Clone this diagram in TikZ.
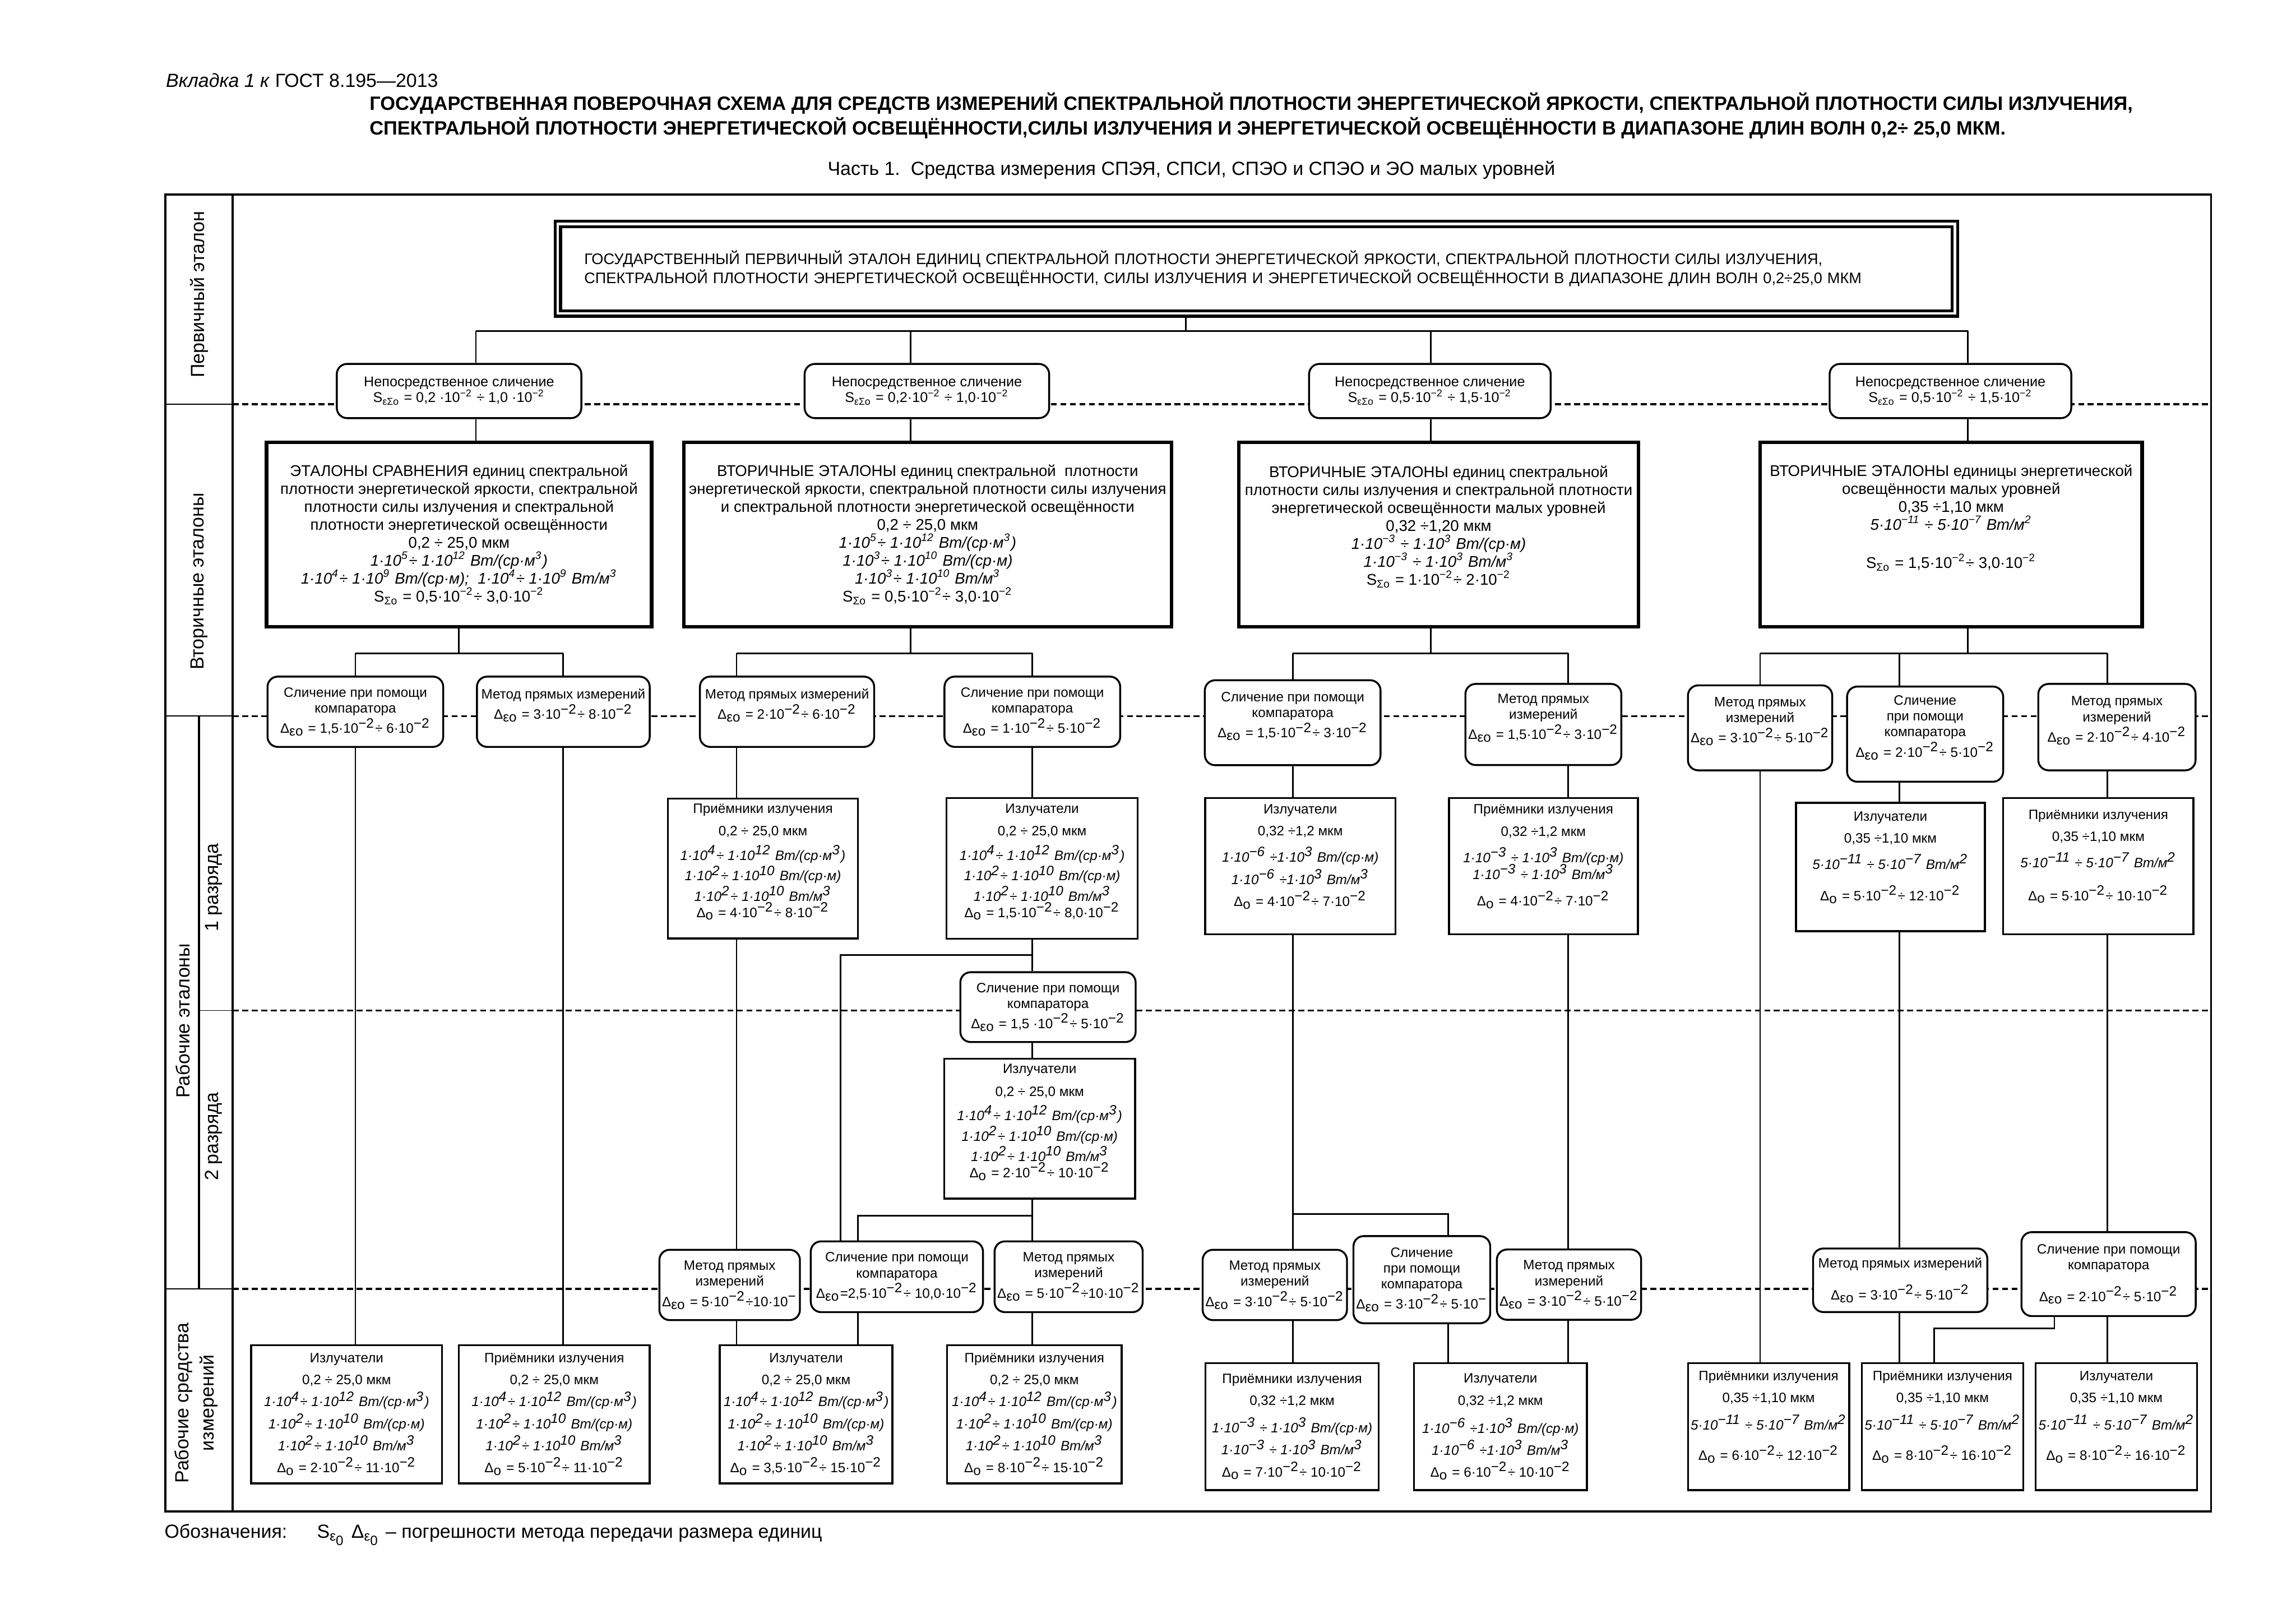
\documentclass[tikz,border=0pt]{standalone}
\usepackage{fontspec}
\setmainfont{Liberation Sans}
\usetikzlibrary{positioning}

\newlength{\pxu}
\setlength{\pxu}{0.01894cm}
\newcommand{\tenp}[1]{·10\textsuperscript{#1}}
\newcommand{\dseo}{Δ\textsubscript{εо}}
\newcommand{\dlo}{Δ\textsubscript{о}}
\newcommand{\ssig}{S\textsubscript{Σо}}
\newcommand{\sesig}{S\textsubscript{εΣо}}
\newcommand{\blokA}{\textit{1\tenp{4}÷ 1\tenp{12} Вт/(ср·м\textsuperscript{3})}\\
  \textit{1\tenp{2}÷ 1\tenp{10} Вт/(ср·м)}\\
  \textit{1\tenp{2}÷ 1\tenp{10} Вт/м\textsuperscript{3}}}

\begin{document}
\begin{tikzpicture}[
    x=0.01894cm, y=-0.01894cm,
    ramka/.style={line width=0.8pt},
    tonk/.style={line width=0.4pt},
    granica/.style={line width=0.7pt, dash pattern=on 2.2pt off 1.3pt},
    svyaz/.style={line width=0.6pt},
    glavny/.style={draw, double, line width=1.1pt, double distance=0.9pt, fill=white, inner sep=0pt, align=left, text width=918\pxu, font=\fontsize{5.6}{7}\selectfont},
    vtorich/.style={draw, line width=1.35pt, fill=white, align=center, inner sep=1pt, font=\fontsize{5.7}{6.6}\selectfont},
    slich/.style={draw, line width=0.7pt, rounded corners=7\pxu, fill=white, align=center, inner sep=1pt, font=\fontsize{5.2}{5.75}\selectfont},
    metod/.style={slich, font=\fontsize{5}{5.8}\selectfont},
    pribor/.style={draw, line width=0.7pt, fill=white, align=center, inner sep=1pt, font=\fontsize{5}{5.9}\selectfont},
    rabochy/.style={pribor, font=\fontsize{5}{8.1}\selectfont},
    podpis/.style={rotate=90, align=center, inner sep=0pt, font=\fontsize{7}{9.2}\selectfont}
]
\useasboundingbox[fill=white] (0,0) rectangle (1568,1108);

% Заголовок
\node[anchor=west, inner sep=0pt, font=\fontsize{7}{8}\selectfont] (vkladka) at (113,55) {\textit{Вкладка 1 к} ГОСТ 8.195—2013};
\node[anchor=west, inner sep=0pt, align=left, font=\bfseries\fontsize{7.1}{9}\selectfont] (zagol) at (252,79)
  {ГОСУДАРСТВЕННАЯ ПОВЕРОЧНАЯ СХЕМА ДЛЯ СРЕДСТВ ИЗМЕРЕНИЙ СПЕКТРАЛЬНОЙ ПЛОТНОСТИ ЭНЕРГЕТИЧЕСКОЙ ЯРКОСТИ, СПЕКТРАЛЬНОЙ ПЛОТНОСТИ СИЛЫ ИЗЛУЧЕНИЯ,\\
   СПЕКТРАЛЬНОЙ ПЛОТНОСТИ ЭНЕРГЕТИЧЕСКОЙ ОСВЕЩЁННОСТИ,СИЛЫ ИЗЛУЧЕНИЯ И ЭНЕРГЕТИЧЕСКОЙ ОСВЕЩЁННОСТИ В ДИАПАЗОНЕ ДЛИН ВОЛН 0,2÷ 25,0 МКМ.};
\node[inner sep=0pt, font=\fontsize{7}{8}\selectfont] (chast) at (813.6,116) {Часть 1.\ \ Средства измерения СПЭЯ, СПСИ, СПЭО и СПЭО и ЭО малых уровней};

% Рамка и границы уровней
\draw[ramka] (113,133) rectangle (1510,1032);
\draw[ramka] (159,133) -- (159,1032);
\draw[ramka] (136,489) -- (136,880);
\draw[tonk] (113,276) -- (159,276);
\draw[tonk] (113,489) -- (159,489);
\draw[tonk] (136,690) -- (159,690);
\draw[tonk] (113,880) -- (159,880);
\draw[granica] (159,276) -- (1510,276);
\draw[granica] (159,489) -- (1510,489);
\draw[granica] (159,690) -- (1510,690);
\draw[granica] (159,880) -- (1510,880);

% Подписи уровней
\node[podpis] (lb1) at (136,201) {Первичный эталон};
\node[podpis] (lb2) at (136,397) {Вторичные эталоны};
\node[podpis] (lb3) at (125,697) {Рабочие эталоны};
\node[podpis] (lb4) at (146,606) {1 разряда};
\node[podpis] (lb5) at (146,776) {2 разряда};
\node[podpis] (lb6) at (134,958) {Рабочие средства\\ измерений};

% Первичный эталон
\node[glavny, minimum width=954\pxu, minimum height=61\pxu] (pe) at (858,183.5)
  {ГОСУДАРСТВЕННЫЙ ПЕРВИЧНЫЙ ЭТАЛОН ЕДИНИЦ СПЕКТРАЛЬНОЙ ПЛОТНОСТИ ЭНЕРГЕТИЧЕСКОЙ ЯРКОСТИ, СПЕКТРАЛЬНОЙ ПЛОТНОСТИ СИЛЫ ИЗЛУЧЕНИЯ,\\
   СПЕКТРАЛЬНОЙ ПЛОТНОСТИ ЭНЕРГЕТИЧЕСКОЙ ОСВЕЩЁННОСТИ, СИЛЫ ИЗЛУЧЕНИЯ И ЭНЕРГЕТИЧЕСКОЙ ОСВЕЩЁННОСТИ В ДИАПАЗОНЕ ДЛИН ВОЛН 0,2÷25,0 МКМ};

% Непосредственное сличение
\node[slich, minimum width=167\pxu, minimum height=37\pxu] (sl1) at (313.5,267) {Непосредственное сличение\\ \sesig{} = 0,2 \tenp{−2} ÷ 1,0 \tenp{−2}};
\node[slich, minimum width=167\pxu, minimum height=37\pxu] (sl2) at (633,267) {Непосредственное сличение\\ \sesig{} = 0,2\tenp{−2} ÷ 1,0\tenp{−2}};
\node[slich, minimum width=165\pxu, minimum height=37\pxu] (sl3) at (976.5,267) {Непосредственное сличение\\ \sesig{} = 0,5\tenp{−2} ÷ 1,5\tenp{−2}};
\node[slich, minimum width=165\pxu, minimum height=37\pxu] (sl4) at (1332,267) {Непосредственное сличение\\ \sesig{} = 0,5\tenp{−2} ÷ 1,5\tenp{−2}};

% Вторичные эталоны
\node[vtorich, minimum width=263\pxu, minimum height=126\pxu] (vt1) at (313.5,365)
  {ЭТАЛОНЫ СРАВНЕНИЯ единиц спектральной\\ плотности энергетической яркости, спектральной\\ плотности силы излучения и спектральной\\ плотности энергетической освещённости\\ 0,2 ÷ 25,0 мкм\\
   \textit{1\tenp{5}÷ 1\tenp{12} Вт/(ср·м\textsuperscript{3})}\\ \textit{1\tenp{4}÷ 1\tenp{9} Вт/(ср·м);\ \ 1\tenp{4}÷ 1\tenp{9} Вт/м\textsuperscript{3}}\\ \ssig{} = 0,5\tenp{−2}÷ 3,0\tenp{−2}};
\node[vtorich, minimum width=333\pxu, minimum height=126\pxu] (vt2) at (633.5,365)
  {ВТОРИЧНЫЕ ЭТАЛОНЫ единиц спектральной\ \ плотности\\ энергетической яркости, спектральной плотности силы излучения\\ и спектральной плотности энергетической освещённости\\ 0,2 ÷ 25,0 мкм\\
   \textit{1\tenp{5}÷ 1\tenp{12} Вт/(ср·м\textsuperscript{3})}\\ \textit{1\tenp{3}÷ 1\tenp{10} Вт/(ср·м)}\\ \textit{1\tenp{3}÷ 1\tenp{10} Вт/м\textsuperscript{3}}\\ \ssig{} = 0,5\tenp{−2}÷ 3,0\tenp{−2}};
\node[vtorich, minimum width=273\pxu, minimum height=126\pxu] (vt3) at (982.5,365)
  {ВТОРИЧНЫЕ ЭТАЛОНЫ единиц спектральной\\ плотности силы излучения и спектральной плотности\\ энергетической освещённости малых уровней\\ 0,32 ÷1,20 мкм\\
   \textit{1\tenp{−3} ÷ 1\tenp{3} Вт/(ср·м)}\\ \textit{1\tenp{−3} ÷ 1\tenp{3} Вт/м\textsuperscript{3}}\\ \ssig{} = 1\tenp{−2}÷ 2\tenp{−2}\\ \mbox{}};
\node[vtorich, minimum width=261\pxu, minimum height=126\pxu] (vt4) at (1332.5,365)
  {ВТОРИЧНЫЕ ЭТАЛОНЫ единицы энергетической\\ освещённости малых уровней\\ 0,35 ÷1,10 мкм\\ \textit{5\tenp{−11} ÷ 5\tenp{−7} Вт/м\textsuperscript{2}}\\[7.5pt]
   \ssig{} = 1,5\tenp{−2}÷ 3,0\tenp{−2}\\ \mbox{}\\ \mbox{}};

% Методы передачи к рабочим эталонам 1 разряда
\node[metod, minimum width=120\pxu, minimum height=48\pxu] (m1) at (242.7,486) {Сличение при помощи\\ компаратора\\ \dseo{} = 1,5\tenp{−2}÷ 6\tenp{−2}};
\node[metod, minimum width=118\pxu, minimum height=48\pxu] (m2) at (384.7,486) {Метод прямых измерений\\ \dseo{} = 3\tenp{−2}÷ 8\tenp{−2}\\ \mbox{}};
\node[metod, minimum width=119\pxu, minimum height=48\pxu] (m3) at (537.5,486) {Метод прямых измерений\\ \dseo{} = 2\tenp{−2}÷ 6\tenp{−2}\\ \mbox{}};
\node[metod, minimum width=120\pxu, minimum height=48\pxu] (m4) at (705,486) {Сличение при помощи\\ компаратора\\ \dseo{} = 1\tenp{−2}÷ 5\tenp{−2}};
\node[metod, minimum width=120\pxu, minimum height=58\pxu] (m5) at (882.8,493.5) {Сличение при помощи\\ компаратора\\ \dseo{} = 1,5\tenp{−2}÷ 3\tenp{−2}\\ \mbox{}};
\node[metod, minimum width=106.5\pxu, minimum height=55.4\pxu] (m6) at (1054,494.7) {Метод прямых\\ измерений\\ \dseo{} = 1,5\tenp{−2}÷ 3\tenp{−2}\\ \mbox{}};
\node[metod, minimum width=94\pxu, minimum height=58\pxu] (m7) at (1202,497) {Метод прямых\\ измерений\\ \dseo{} = 3\tenp{−2}÷ 5\tenp{−2}\\ \mbox{}};
\node[metod, minimum width=106.6\pxu, minimum height=65\pxu] (m8) at (1314.7,501.3) {Сличение\\ при помощи\\ компаратора\\ \dseo{} = 2\tenp{−2}÷ 5\tenp{−2}\\ \mbox{}};
\node[metod, minimum width=107.4\pxu, minimum height=59\pxu] (m9) at (1445.7,496.5) {Метод прямых\\ измерений\\ \dseo{} = 2\tenp{−2}÷ 4\tenp{−2}\\ \mbox{}};

% Рабочие эталоны 1 разряда
\node[pribor, minimum width=130\pxu, minimum height=95.5\pxu] (r1a) at (521,593) {Приёмники излучения\\[2.5pt] 0,2 ÷ 25,0 мкм\\[1.8pt] \blokA\\ \dlo{} = 4\tenp{−2}÷ 8\tenp{−2}\\ \mbox{}};
\node[pribor, minimum width=130.5\pxu, minimum height=96\pxu] (e1a) at (711.7,593) {Излучатели\\[2.5pt] 0,2 ÷ 25,0 мкм\\[1.8pt] \blokA\\ \dlo{} = 1,5\tenp{−2}÷ 8,0\tenp{−2}\\ \mbox{}};
\node[rabochy, minimum width=130\pxu, minimum height=93\pxu] (e1b) at (888,591.5) {Излучатели\\ 0,32 ÷1,2 мкм\\[1.6pt] \textit{1\tenp{−6} ÷1\tenp{3} Вт/(ср·м)}\\ \textit{1\tenp{−6} ÷1\tenp{3} Вт/м\textsuperscript{3}}\\ \dlo{} = 4\tenp{−2}÷ 7\tenp{−2}\\ \mbox{}};
\node[rabochy, minimum width=129\pxu, minimum height=93\pxu] (r1b) at (1054,591.5) {Приёмники излучения\\ 0,32 ÷1,2 мкм\\[1.6pt] \textit{1\tenp{−3} ÷ 1\tenp{3} Вт/(ср·м)}\\[-1.8pt] \textit{1\tenp{−3} ÷ 1\tenp{3} Вт/м\textsuperscript{3}}\\[1.6pt] \dlo{} = 4\tenp{−2}÷ 7\tenp{−2}\\ \mbox{}};
\node[rabochy, minimum width=129\pxu, minimum height=87.7\pxu] (e1c) at (1291,592) {Излучатели\\ 0,35 ÷1,10 мкм\\[1.6pt] \textit{5\tenp{−11} ÷ 5\tenp{−7} Вт/м\textsuperscript{2}}\\[3.4pt] \dlo{} = 5\tenp{−2}÷ 12\tenp{−2}\\ \mbox{}};
\node[rabochy, minimum width=130\pxu, minimum height=93\pxu] (r1c) at (1433,591.5) {Приёмники излучения\\ 0,35 ÷1,10 мкм\\[1.5pt] \textit{5\tenp{−11} ÷ 5\tenp{−7} Вт/м\textsuperscript{2}}\\[4pt] \dlo{} = 5\tenp{−2}÷ 10\tenp{−2}\\ \mbox{}};

% Рабочие эталоны 2 разряда
\node[metod, minimum width=119.7\pxu, minimum height=47.7\pxu] (m2r) at (715.7,687.7) {Сличение при помощи\\ компаратора\\ \dseo{} = 1,5 \tenp{−2}÷ 5\tenp{−2}};
\node[pribor, minimum width=130.5\pxu, minimum height=95.5\pxu] (e2) at (710,770.7) {Излучатели\\[2.5pt] 0,2 ÷ 25,0 мкм\\[1.8pt] \blokA\\ \dlo{} = 2\tenp{−2}÷ 10\tenp{−2}\\ \mbox{}};

% Методы передачи к рабочим средствам
\node[metod, minimum width=83.8\pxu, minimum height=48\pxu] (m10) at (498.3,877.4) {Метод прямых\\ измерений\\ \dseo{} = 5\tenp{−2}÷10\tenp{−}};
\node[metod, minimum width=117.6\pxu, minimum height=48.3\pxu] (m11) at (612.5,871.8) {Сличение при помощи\\ компаратора\\ \dseo{}=2,5\tenp{−2}÷ 10,0\tenp{−2}};
\node[metod, minimum width=94\pxu, minimum height=48.3\pxu] (m12) at (729.8,871.8) {Метод прямых\\ измерений\\ \dseo{} = 5\tenp{−2}÷10\tenp{−2}};
\node[metod, minimum width=92.8\pxu, minimum height=48\pxu] (m13) at (870.6,877.4) {Метод прямых\\ измерений\\ \dseo{} = 3\tenp{−2}÷ 5\tenp{−2}};
\node[metod, minimum width=82\pxu, minimum height=59.5\pxu] (m14) at (971,873.8) {Сличение\\ при помощи\\ компаратора\\ \dseo{} = 3\tenp{−2}÷ 5\tenp{−}};
\node[metod, minimum width=94\pxu, minimum height=48\pxu] (m15) at (1071.5,877.2) {Метод прямых\\ измерений\\ \dseo{} = 3\tenp{−2}÷ 5\tenp{−2}};
\node[metod, minimum width=119\pxu, minimum height=43.4\pxu] (m16) at (1297.7,874.2) {Метод прямых измерений\\[4.2pt] \dseo{} = 3\tenp{−2}÷ 5\tenp{−2}};
\node[metod, minimum width=119\pxu, minimum height=57.3\pxu] (m17) at (1440,870) {Сличение при помощи\\ компаратора\\[4.2pt] \dseo{} = 2\tenp{−2}÷ 5\tenp{−2}};

% Рабочие средства измерений
\node[rabochy, minimum width=130.4\pxu, minimum height=94.5\pxu] (w1) at (236.7,965.7) {Излучатели\\ 0,2 ÷ 25,0 мкм\\ \blokA\\ \dlo{} = 2\tenp{−2}÷ 11\tenp{−2}};
\node[rabochy, minimum width=130.4\pxu, minimum height=94.5\pxu] (w2) at (378.5,965.7) {Приёмники излучения\\ 0,2 ÷ 25,0 мкм\\ \blokA\\ \dlo{} = 5\tenp{−2}÷ 11\tenp{−2}};
\node[rabochy, minimum width=118\pxu, minimum height=94.5\pxu] (w3) at (550.5,965.7) {Излучатели\\ 0,2 ÷ 25,0 мкм\\ \blokA\\ \dlo{} = 3,5\tenp{−2}÷ 15\tenp{−2}};
\node[rabochy, minimum width=119.2\pxu, minimum height=94.5\pxu] (w4) at (706.4,965.7) {Приёмники излучения\\ 0,2 ÷ 25,0 мкм\\ \blokA\\ \dlo{} = 8\tenp{−2}÷ 15\tenp{−2}};
\node[rabochy, minimum width=118.2\pxu, minimum height=86.7\pxu] (w5) at (882.4,974.2) {Приёмники излучения\\ 0,32 ÷1,2 мкм\\[2pt] \textit{1\tenp{−3} ÷ 1\tenp{3} Вт/(ср·м)}\\ \textit{1\tenp{−3} ÷ 1\tenp{3} Вт/м\textsuperscript{3}}\\ \dlo{} = 7\tenp{−2}÷ 10\tenp{−2}};
\node[rabochy, minimum width=118.2\pxu, minimum height=86.7\pxu] (w6) at (1024.7,974.2) {Излучатели\\ 0,32 ÷1,2 мкм\\[2.2pt] \textit{1\tenp{−6} ÷1\tenp{3} Вт/(ср·м)}\\ \textit{1\tenp{−6} ÷1\tenp{3} Вт/м\textsuperscript{3}}\\ \dlo{} = 6\tenp{−2}÷ 10\tenp{−2}};
\node[rabochy, minimum width=106.2\pxu, minimum height=86.7\pxu] (w7) at (1207.8,974.2) {Приёмники излучения\\ 0,35 ÷1,10 мкм\\[2pt] \textit{5\tenp{−11} ÷ 5\tenp{−7} Вт/м\textsuperscript{2}}\\[3.1pt] \dlo{} = 6\tenp{−2}÷ 12\tenp{−2}\\ \mbox{}};
\node[rabochy, minimum width=105.7\pxu, minimum height=86.7\pxu] (w8) at (1326.6,974.2) {Приёмники излучения\\ 0,35 ÷1,10 мкм\\[2pt] \textit{5\tenp{−11} ÷ 5\tenp{−7} Вт/м\textsuperscript{2}}\\[3.1pt] \dlo{} = 8\tenp{−2}÷ 16\tenp{−2}\\ \mbox{}};
\node[rabochy, minimum width=106.6\pxu, minimum height=86.7\pxu] (w9) at (1445.3,974.2) {Излучатели\\ 0,35 ÷1,10 мкм\\[2pt] \textit{5\tenp{−11} ÷ 5\tenp{−7} Вт/м\textsuperscript{2}}\\[3.1pt] \dlo{} = 8\tenp{−2}÷ 16\tenp{−2}\\ \mbox{}};

% Связи от первичного эталона
\coordinate (s0) at (810,226);
\coordinate (s1) at (325,226);
\coordinate (s2) at (622,226);
\coordinate (s3) at (977,226);
\coordinate (s4) at (1344,226);
\draw[svyaz] (pe.south -| s0) -- (s0);
\draw[svyaz] (s1) -- (s4);
\draw[svyaz] (s1) -- (sl1.north -| s1);
\draw[svyaz] (s2) -- (sl2.north -| s2);
\draw[svyaz] (s3) -- (sl3.north -| s3);
\draw[svyaz] (s4) -- (sl4.north -| s4);
\draw[svyaz] (sl1.south -| s1) -- (vt1.north -| s1);
\draw[svyaz] (sl2.south -| s2) -- (vt2.north -| s2);
\draw[svyaz] (sl3.south -| s3) -- (vt3.north -| s3);
\draw[svyaz] (sl4.south -| s4) -- (vt4.north -| s4);

% Связи от вторичных эталонов
\coordinate (v1a) at (242.7,446);
\coordinate (v1b) at (384.7,446);
\draw[svyaz] (vt1.south) -- (vt1.south |- v1a);
\draw[svyaz] (v1a) -- (v1b);
\draw[svyaz] (v1a) -- (m1.north);
\draw[svyaz] (v1b) -- (m2.north);
\coordinate (v2a) at (503,446);
\coordinate (v2b) at (705,446);
\draw[svyaz] (vt2.south -| s2) -- (s2 |- v2a);
\draw[svyaz] (v2a) -- (v2b);
\draw[svyaz] (v2a) -- (m3.north -| v2a);
\draw[svyaz] (v2b) -- (m4.north);
\coordinate (v3a) at (882.8,446);
\coordinate (v3b) at (1071,446);
\draw[svyaz] (vt3.south -| s3) -- (s3 |- v3a);
\draw[svyaz] (v3a) -- (v3b);
\draw[svyaz] (v3a) -- (m5.north);
\draw[svyaz] (v3b) -- (m6.north -| v3b);
\coordinate (v4a) at (1202,446);
\coordinate (v4b) at (1297,446);
\coordinate (v4c) at (1439,446);
\draw[svyaz] (vt4.south -| s4) -- (s4 |- v4a);
\draw[svyaz] (v4a) -- (v4c);
\draw[svyaz] (v4a) -- (m7.north);
\draw[svyaz] (v4b) -- (m8.north -| v4b);
\draw[svyaz] (v4c) -- (m9.north -| v4c);

% К рабочим эталонам 1 разряда
\draw[svyaz] (m3.south -| v2a) -- (r1a.north -| v2a);
\draw[svyaz] (m4.south) -- (m4.south |- e1a.north);
\draw[svyaz] (m5.south) -- (m5.south |- e1b.north);
\draw[svyaz] (m6.south -| v3b) -- (r1b.north -| v3b);
\draw[svyaz] (m8.south -| v4b) -- (e1c.north -| v4b);
\draw[svyaz] (m9.south -| v4c) -- (r1c.north -| v4c);

% Прямые связи к рабочим средствам
\draw[svyaz] (m1.south) -- (m1.south |- w1.north);
\draw[svyaz] (m2.south) -- (m2.south |- w2.north);
\draw[svyaz] (m7.south) -- (m7.south |- w7.north);

% Рабочие эталоны 2 разряда и ответвления
\coordinate (k1) at (705,652);
\coordinate (k2) at (574,652);
\draw[svyaz] (e1a.south -| k1) -- (m2r.north -| k1);
\draw[svyaz] (k1) -- (k2) -- (m11.north -| k2);
\draw[svyaz] (m2r.south -| k1) -- (e2.north -| k1);
\coordinate (k3) at (705,830);
\coordinate (k4) at (586,830);
\draw[svyaz] (e2.south -| k3) -- (m12.north -| k3);
\draw[svyaz] (k3) -- (k4) -- (m11.north -| k4);
\draw[svyaz] (r1a.south -| v2a) -- (m10.north -| v2a);

% Рабочие средства, левая часть
\draw[svyaz] (m10.south -| v2a) -- (w3.north -| v2a);
\draw[svyaz] (m11.south -| k4) -- (w3.north -| k4);
\draw[svyaz] (m12.south -| k3) -- (w4.north -| k3);

% Рабочие средства, правая часть
\coordinate (k5) at (882.8,829);
\coordinate (k6) at (989,829);
\draw[svyaz] (e1b.south -| k5) -- (m13.north -| k5);
\draw[svyaz] (k5) -- (k6) -- (m14.north -| k6);
\draw[svyaz] (r1b.south -| v3b) -- (m15.north -| v3b);
\draw[svyaz] (m13.south -| k5) -- (w5.north -| k5);
\draw[svyaz] (m14.south -| k6) -- (w6.north -| k6);
\draw[svyaz] (m15.south -| v3b) -- (w6.north -| v3b);
\draw[svyaz] (e1c.south -| v4b) -- (m16.north -| v4b);
\draw[svyaz] (m16.south -| v4b) -- (w8.north -| v4b);
\draw[svyaz] (r1c.south -| v4c) -- (m17.north -| v4c);
\draw[svyaz] (m17.south -| v4c) -- (w9.north -| v4c);
\coordinate (k7) at (1403,907);
\coordinate (k8) at (1321,907);
\draw[svyaz] (m17.south -| k7) -- (k7) -- (k8) -- (w8.north -| k8);

% Обозначения
\node[anchor=west, inner sep=0pt, font=\fontsize{7}{8}\selectfont] (oboz) at (112,1048)
  {Обозначения:\hspace{11pt}S\textsubscript{ε\textsubscript{0}} Δ\textsubscript{ε\textsubscript{0}} – погрешности метода передачи размера единиц};
\end{tikzpicture}
\end{document}
